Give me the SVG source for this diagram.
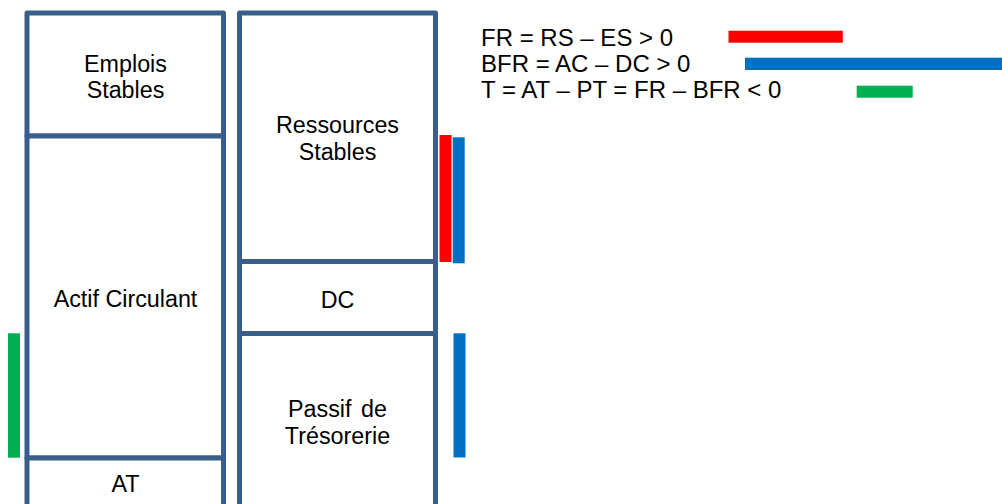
<svg xmlns="http://www.w3.org/2000/svg" width="1002" height="504" viewBox="0 0 1002 504">
  <style>
    .box { fill: #ffffff; stroke: #3A5E8C; stroke-width: 5; stroke-linejoin: round; }
    .lbl { font-family: "Liberation Sans", Arial, sans-serif; font-size: 23.3px; fill: #000000; text-anchor: middle; }
    .leg { font-family: "Liberation Sans", Arial, sans-serif; font-size: 24px; fill: #000000; }
    .red { fill: #FF0000; }
    .blue { fill: #0070C0; }
    .green { fill: #00B050; }
  </style>
  <rect width="1002" height="504" fill="#ffffff"/>

  <g id="emplois-stables">
    <rect class="box" x="27" y="13" width="196.5" height="123"/>
    <text class="lbl" x="125.5" y="71.7">Emplois</text>
    <text class="lbl" x="125.5" y="97.5">Stables</text>
  </g>
  <g id="actif-circulant">
    <rect class="box" x="27" y="136" width="196.5" height="322"/>
    <text class="lbl" x="125.5" y="306.5">Actif Circulant</text>
  </g>
  <g id="at">
    <rect class="box" x="27" y="458" width="196.5" height="70"/>
    <text class="lbl" x="125.5" y="491.7">AT</text>
  </g>

  <g id="ressources-stables">
    <rect class="box" x="239.5" y="13" width="196" height="248.5"/>
    <text class="lbl" x="337.5" y="133">Ressources</text>
    <text class="lbl" x="337.5" y="160">Stables</text>
  </g>
  <g id="dc">
    <rect class="box" x="239.5" y="261.5" width="196" height="72"/>
    <text class="lbl" x="337.5" y="308.3">DC</text>
  </g>
  <g id="passif-tresorerie">
    <rect class="box" x="239.5" y="333.5" width="196" height="195"/>
    <text class="lbl" x="337.5" y="416.7" word-spacing="3">Passif de</text>
    <text class="lbl" x="337.5" y="444.3">Trésorerie</text>
  </g>

  <g id="bars">
    <rect class="red" x="439.5" y="135" width="12" height="127"/>
    <rect class="blue" x="452.7" y="137.3" width="12" height="126"/>
    <rect class="blue" x="453.5" y="333.3" width="12" height="124.2"/>
    <rect class="green" x="8" y="333.3" width="12" height="124.4"/>
  </g>

  <g id="legend">
    <text class="leg" x="481" y="46">FR = RS – ES &gt; 0</text>
    <text class="leg" x="481" y="72">BFR = AC – DC &gt; 0</text>
    <text class="leg" x="481" y="98">T = AT – PT = FR – BFR &lt; 0</text>
    <rect class="red" x="728.5" y="30.7" width="114.3" height="12"/>
    <rect class="blue" x="745" y="57.7" width="257" height="12.3"/>
    <rect class="green" x="856.7" y="85.7" width="56" height="12"/>
  </g>
</svg>
